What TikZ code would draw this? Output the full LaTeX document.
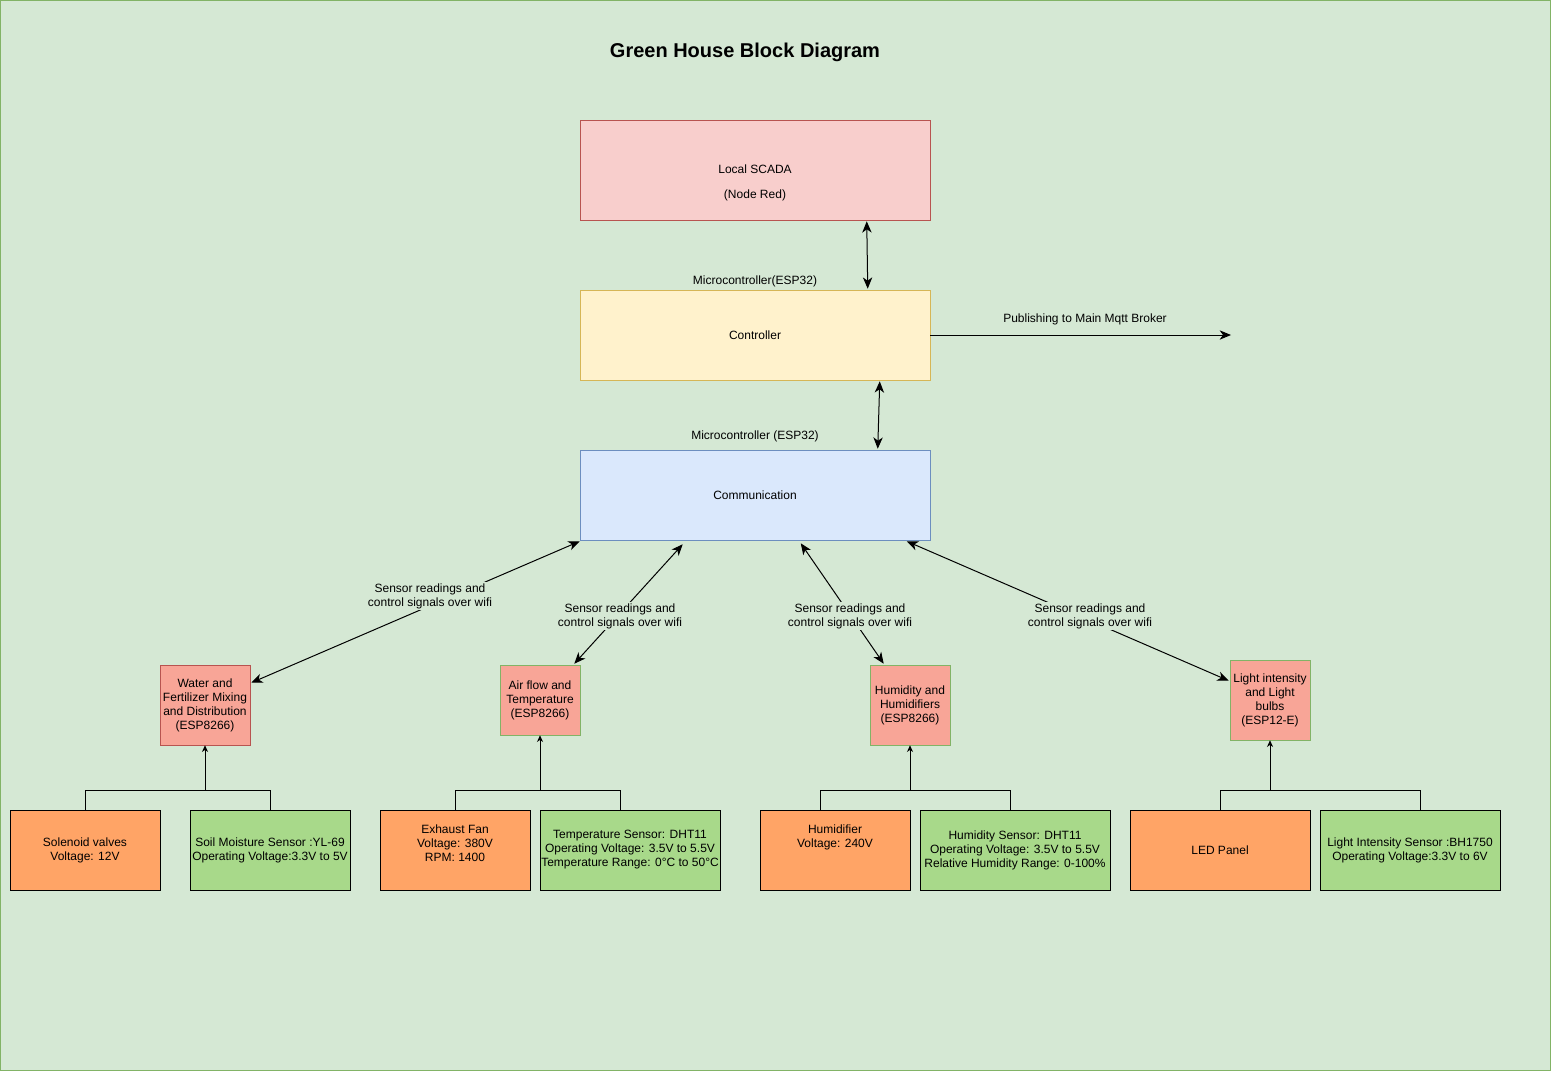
\documentclass[tikz,border=0pt]{standalone}
\usepackage{fontspec}
\setmainfont{Liberation Sans}
\usetikzlibrary{arrows.meta,calc}
\definecolor{bgc}{HTML}{D5E8D4}
\definecolor{bgline}{HTML}{82B366}
\definecolor{scadaf}{HTML}{F8CECC}
\definecolor{scadal}{HTML}{B85450}
\definecolor{ctrlf}{HTML}{FFF2CC}
\definecolor{ctrll}{HTML}{D6B656}
\definecolor{commf}{HTML}{DAE8FC}
\definecolor{comml}{HTML}{6C8EBF}
\definecolor{modf}{HTML}{F8A597}
\definecolor{actf}{HTML}{FFA466}
\definecolor{sensf}{HTML}{A8D98A}
\tikzset{
  x=0.75pt, y=-0.75pt,
  every node/.style={font=\fontsize{9}{10.5}\selectfont, align=center, inner sep=0pt},
  box/.style n args={2}{draw, minimum width=#1*0.75pt, minimum height=#2*0.75pt},
  lbl/.style={fill=bgc, inner sep=1pt},
  big/.style={-{Stealth[length=8.5pt,width=7pt,inset=2.5pt]}},
  bigboth/.style={{Stealth[length=8.5pt,width=7pt,inset=2.5pt]}-{Stealth[length=8.5pt,width=7pt,inset=2.5pt]}},
  small/.style={-{Stealth[length=5pt,width=4.5pt,inset=1.5pt]}},
  wire/.style={line width=0.75pt}
}
\begin{document}
\begin{tikzpicture}
\draw[fill=bgc, draw=bgline, line width=0.75pt] (0.5,0.5) rectangle (1550.5,1070.5);
\useasboundingbox (0,0) rectangle (1551,1071);

\node[font=\fontsize{15}{18}\selectfont\bfseries] (title) at (745,52) {Green House Block Diagram};

\node[box={350}{100}, fill=scadaf, draw=scadal,
  label={[align=center, yshift=-9.4pt]center:Local SCADA\\[8.25pt](Node Red)}] (scada) at (755,170) {};
\node (mc1) at (755,281) {Microcontroller(ESP32)};
\node[box={350}{90}, fill=ctrlf, draw=ctrll] (ctrl) at (755,335) {\raisebox{-0.75pt}{Controller}};
\node (mc2) at (755,436) {Microcontroller (ESP32)};
\node[box={350}{90}, fill=commf, draw=comml] (comm) at (755,495) {\raisebox{-0.75pt}{Communication}};

\coordinate (broker) at (1231,335);
\draw[wire, big] (ctrl.east) -- (broker);
\node (pub) at (1085,319) {Publishing to Main Mqtt Broker};

\draw[wire, bigboth] ($(scada.south west)+(287,1)$) -- ($(ctrl.north west)+(288,-1)$);
\draw[wire, bigboth] ($(ctrl.south west)+(300,1)$) -- ($(comm.north west)+(298,-1)$);

\node[box={90}{80}, fill=modf, draw=scadal] (water) at (205,705) {Water and\\Fertilizer Mixing\\and Distribution\\(ESP8266)};
\node[box={80}{70}, fill=modf, draw=bgline] (air) at (540,700) {Air flow and\\Temperature\\(ESP8266)};
\node[box={80}{80}, fill=modf, draw=bgline] (hum) at (910,705) {Humidity and\\Humidifiers\\(ESP8266)};
\node[box={80}{80}, fill=modf, draw=bgline] (light) at (1270,700) {Light intensity\\and Light\\bulbs\\(ESP12-E)};

\draw[wire, bigboth] ($(comm.south west)+(0,1)$) -- ($(water.north east)+(1,18)$);
\node[lbl] (l1) at (430,596) {Sensor readings and\\control signals over wifi};
\draw[wire, bigboth] ($(comm.south west)+(103,4)$) -- ($(air.north east)+(-6,-1)$);
\node[lbl] (l2) at (620,616) {Sensor readings and\\control signals over wifi};
\draw[wire, bigboth] ($(comm.south west)+(221,3)$) -- ($(hum.north west)+(14,-1)$);
\node[lbl] (l3) at (850,616) {Sensor readings and\\control signals over wifi};
\draw[wire, bigboth] ($(comm.south west)+(327,1)$) -- ($(light.north west)+(-1,21)$);
\node[lbl] (l4) at (1090,616) {Sensor readings and\\control signals over wifi};

\node[box={150}{80}, fill=actf] (sol) at (85,850) {Solenoid valves\\Voltage: 12V};
\node[box={160}{80}, fill=sensf] (soil) at (270,850) {Soil Moisture Sensor :YL-69\\Operating Voltage:3.3V to 5V};
\node[box={150}{80}, fill=actf] (fan) at (455,850) {Exhaust Fan\\Voltage: 380V\\RPM: 1400\\\mbox{}};
\node[box={180}{80}, fill=sensf] (temp) at (630,850) {Temperature Sensor: DHT11\\Operating Voltage: 3.5V to 5.5V\\Temperature Range: 0°C to 50°C};
\node[box={150}{80}, fill=actf] (humid) at (835,850) {Humidifier\\Voltage: 240V\\\mbox{}\\\mbox{}};
\node[box={190}{80}, fill=sensf] (hsens) at (1015,850) {Humidity Sensor: DHT11\\Operating Voltage: 3.5V to 5.5V\\Relative Humidity Range: 0-100\%};
\node[box={180}{80}, fill=actf] (led) at (1220,850) {LED Panel};
\node[box={180}{80}, fill=sensf] (lsens) at (1410,850) {Light Intensity Sensor :BH1750\\Operating Voltage:3.3V to 6V};

% trees
\coordinate (j1) at (205,790);
\draw[wire] (sol.north) |- (j1) -| (soil.north);
\draw[wire, small] (j1) -- (water.south);
\coordinate (j2) at (540,790);
\draw[wire] (fan.north) |- (j2) -| ($(temp.north)+(-10,0)$);
\draw[wire, small] (j2) -- (air.south);
\coordinate (j3) at (910,790);
\draw[wire] ($(humid.north)+(-15,0)$) |- (j3) -| ($(hsens.north)+(-5,0)$);
\draw[wire, small] (j3) -- (hum.south);
\coordinate (j4) at (1270,790);
\draw[wire] (led.north) |- (j4) -| ($(lsens.north)+(10,0)$);
\draw[wire, small] (j4) -- (light.south);
\end{tikzpicture}
\end{document}
